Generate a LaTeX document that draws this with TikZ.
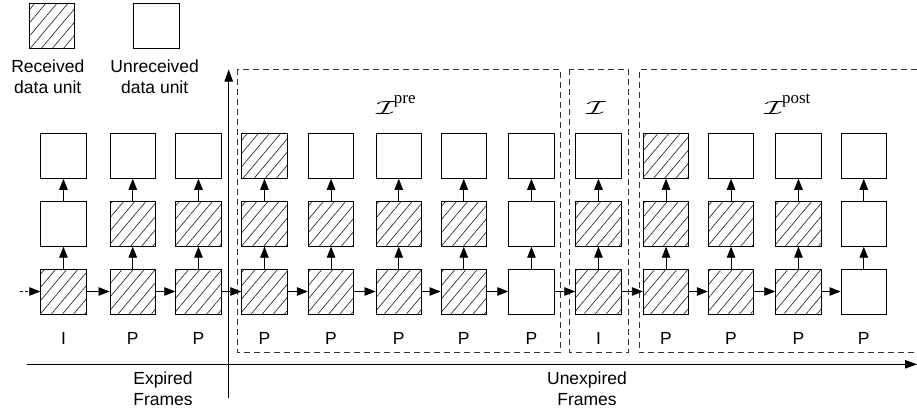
\documentclass[tikz,border=0pt]{standalone}
\usepackage{fontspec}
\usepackage{graphicx}
\setmainfont{Liberation Sans}
\newfontfamily\tnr{Liberation Serif}
\usetikzlibrary{arrows.meta,patterns.meta}
\newcommand{\bigI}{\scalebox{3.2}[1.9]{$\mathcal{I}$}}
\newcommand{\setI}[1]{\bigI\kern-2pt\raisebox{11pt}{\tnr\fontsize{17}{17}\selectfont #1}}
\begin{document}
\begin{tikzpicture}[x=1pt,y=-1pt,
  unit/.style={draw, line width=0.9pt, minimum width=45.5pt, minimum height=45pt, inner sep=0pt},
  rcv/.style={unit, pattern={Lines[angle=50,distance=8.5pt,line width=0.65pt]}, pattern color=black!85},
  arr/.style={line width=0.8pt, -{Triangle[length=11pt,width=8.5pt]}},
  lbl/.style={font=\fontsize{17.5}{21}\selectfont, align=center, inner sep=0pt},
  region/.style={draw=black!80, line width=0.8pt, dash pattern=on 6pt off 4pt},
  setlbl/.style={anchor=base west, inner sep=0pt},
]
\useasboundingbox (0,0) rectangle (917,415);

% legend
\node[rcv] (legR) at (51.8,25.8) {};
\node[unit] (legU) at (156.3,25.8) {};
\node[lbl] (legRt) at (47.8,76.7) {Received\\data unit};
\node[lbl] (legUt) at (154.7,76.7) {Unreceived\\data unit};

% regions
\draw[region] (237.3,69.3) rectangle (560,352.5);
\draw[region] (569.3,69.3) rectangle (628.3,352.5);
\draw[region] (917,69.3) -- (639.3,69.3) -- (639.3,352.5) -- (917,352.5);

\node[setlbl] (Ipre) at (376,114.3) {\setI{pre}};
\node[setlbl] (Icur) at (586,114.3) {\bigI};
\node[setlbl] (Ipost) at (764,114.3) {\setI{post}};

% columns
\foreach \i/\x/\b/\m/\t/\L in {
  1/63.45/rcv/unit/unit/I,
  2/132.75/rcv/rcv/unit/P,
  3/198.45/rcv/rcv/unit/P,
  4/264.45/rcv/rcv/rcv/P,
  5/331.05/rcv/rcv/unit/P,
  6/398.75/rcv/rcv/unit/P,
  7/463.75/rcv/rcv/unit/P,
  8/531.45/unit/unit/unit/P,
  9/598.45/rcv/rcv/unit/I,
  10/666.05/rcv/rcv/rcv/P,
  11/731.05/rcv/rcv/unit/P,
  12/798.45/rcv/rcv/unit/P,
  13/863.75/unit/unit/unit/P}{
  \node[\b] (b\i) at (\x,291.5) {};
  \node[\m] (m\i) at (\x,223.7) {};
  \node[\t] (t\i) at (\x,155.8) {};
  \node[lbl] (l\i) at (\x,338.3) {\L};
  \draw[arr] (b\i) -- (m\i);
  \draw[arr] (m\i) -- (t\i);
}
\foreach \i in {1,...,12}{
  \pgfmathtruncatemacro{\j}{\i+1}
  \draw[arr] (b\i) -- (b\j);
}
\coordinate (in) at (20,291.5);
\draw[arr, dash pattern=on 3pt off 2pt] (in) -- (b1);

% axes
\coordinate (hx0) at (26.7,364.3);
\coordinate (hx1) at (917,364.3);
\coordinate (vy0) at (228.7,398);
\coordinate (vy1) at (228.7,69.5);
\draw[line width=0.8pt,-{Triangle[length=12pt,width=8.5pt]}] (hx0) -- (hx1);
\draw[line width=0.8pt,-{Triangle[length=12pt,width=8.5pt]}] (vy0) -- (vy1);

\node[lbl] (exp) at (163,389) {Expired\\Frames};
\node[lbl] (unexp) at (587,389) {Unexpired\\Frames};
\end{tikzpicture}
\end{document}
